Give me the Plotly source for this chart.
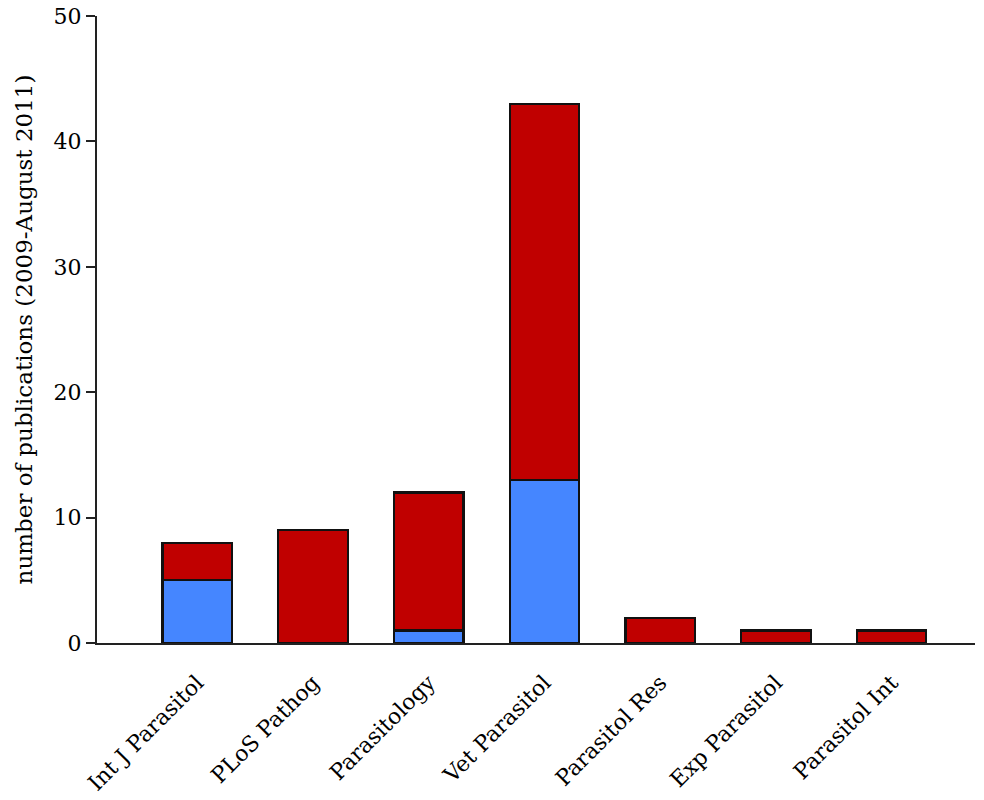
import plotly.graph_objects as go

# journals and publication counts (2009 - Aug 2011)
journals = ['Int J Parasitol', 'PLoS Pathog', 'Parasitology', 'Vet Parasitol',
            'Parasitol Res', 'Exp Parasitol', 'Parasitol Int']
blue_counts = [5, 0, 1, 13, 0, 0, 0]
red_counts = [3, 9, 11, 30, 2, 1, 1]
y_ticks = [0, 10, 20, 30, 40, 50]

x_idx = list(range(len(journals)))

fig = go.Figure()
fig.add_trace(go.Bar(x=x_idx, y=blue_counts, marker=dict(color='#4586FF', line=dict(color='#111111', width=2.2))))
fig.add_trace(go.Bar(x=x_idx, y=red_counts, marker=dict(color='#C00000', line=dict(color='#111111', width=2.2))))

# page has an 8px body margin, so the figure is a bit smaller than the window
fig.update_layout(
    barmode='stack',
    bargap=0.4,
    showlegend=False,
    width=976, height=792,
    margin=dict(l=89, r=9, t=8, b=157),
    plot_bgcolor='white', paper_bgcolor='white',
    font=dict(family='DejaVu Serif', color='black', size=22),
)
fig.update_xaxes(
    tickmode='array', tickvals=x_idx, ticktext=journals,
    tickangle=-45, range=[-0.866, 6.72],
    showline=True, linecolor='#222222', linewidth=2,
    showgrid=False, zeroline=False, ticks='',
    ticklabelstandoff=16,
    tickfont=dict(size=22), automargin=False,
)
fig.update_yaxes(
    range=[0, 50], tickvals=y_ticks,
    showline=True, linecolor='#222222', linewidth=2,
    ticks='outside', ticklen=9, tickwidth=2, tickcolor='#222222',
    showgrid=False, zeroline=False, automargin=False,
    ticklabeloverflow='allow',
    tickfont=dict(size=22),
    title=dict(text='number of publications (2009-August 2011)', font=dict(size=23)),
)

fig.write_html("out.html")
